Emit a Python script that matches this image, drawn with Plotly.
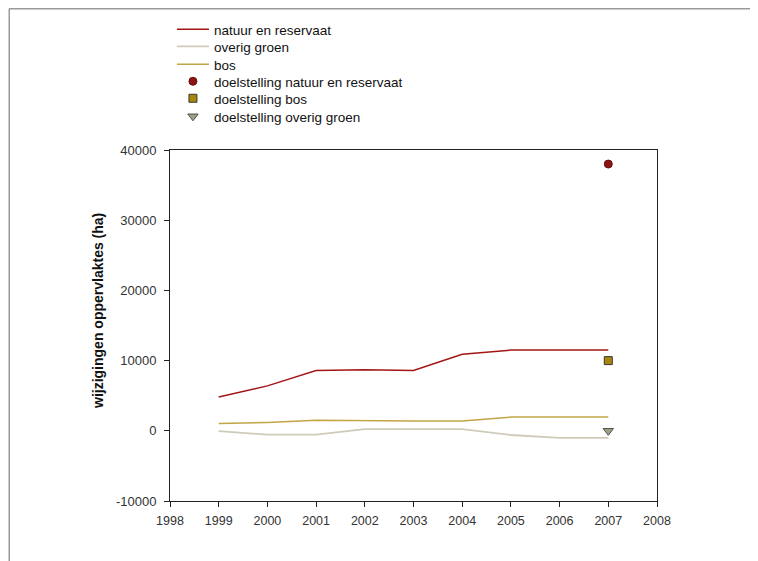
import plotly.graph_objects as go

years = [1999, 2000, 2001, 2002, 2003, 2004, 2005, 2006, 2007]
natuur = [4800, 6400, 8600, 8700, 8600, 10900, 11500, 11500, 11500]
overig = [-50, -550, -550, 250, 250, 250, -600, -1000, -1000]
bos = [1050, 1200, 1500, 1400, 1400, 1400, 1950, 1950, 1950]
target_year = [2007]
doel_natuur = [38000]
doel_bos = [10000]
doel_overig = [0]

y_ticks = [-10000, 0, 10000, 20000, 30000, 40000]
y_ticktext = ["-10000", "0", "10000", "20000", "30000", "40000"]
x_ticks = [1998, 1999, 2000, 2001, 2002, 2003, 2004, 2005, 2006, 2007, 2008]

W, H = 758, 561
L, T, PW, PH = 162, 142, 487, 351


def py(yf):
    return 1 + (T - yf) / PH


def px(xf):
    return (xf - L) / PW


fig = go.Figure()
fig.add_trace(go.Scatter(x=years, y=natuur, mode="lines", name="natuur en reservaat",
                         line=dict(color="#a31515", width=1.5), legend="legend"))
fig.add_trace(go.Scatter(x=years, y=overig, mode="lines", name="overig groen",
                         line=dict(color="#cfcbbb", width=1.8), legend="legend2"))
fig.add_trace(go.Scatter(x=years, y=bos, mode="lines", name="bos",
                         line=dict(color="#c4a544", width=1.5), legend="legend3"))
fig.add_trace(go.Scatter(x=target_year, y=doel_natuur, mode="markers", name="doelstelling natuur en reservaat",
                         marker=dict(symbol="circle", size=8, color="#8b1414", line=dict(color="#6a0e0e", width=1)),
                         legend="legend4"))
fig.add_trace(go.Scatter(x=target_year, y=doel_bos, mode="markers", name="doelstelling bos",
                         marker=dict(symbol="square", size=8, color="#a8860e", line=dict(color="#3a3a2a", width=1)),
                         legend="legend5"))
fig.add_trace(go.Scatter(x=target_year, y=doel_overig, mode="markers", name="doelstelling overig groen",
                         marker=dict(symbol="triangle-down", size=9, color="#a09f8a", line=dict(color="#505048", width=1)),
                         legend="legend6"))

legend_tops = [6, 23, 41, 58, 75, 93]
leg_common = dict(xanchor="left", yanchor="top", font=dict(size=13.5, color="#111111"),
                  bgcolor="rgba(0,0,0,0)", itemwidth=32, borderwidth=0)
legends = {}
for i, top in enumerate(legend_tops):
    key = "legend" if i == 0 else f"legend{i + 1}"
    legends[key] = dict(x=0.004, y=py(top), **leg_common)

fig.update_layout(
    width=W, height=H,
    margin=dict(l=L, r=W - L - PW, t=T, b=H - T - PH, autoexpand=False),
    paper_bgcolor="white", plot_bgcolor="white",
    font=dict(family="Liberation Sans, Arial, sans-serif", size=13, color="#222222"),
    showlegend=True,
    xaxis=dict(range=[1998, 2008], tickmode="array", tickvals=x_ticks,
               showgrid=False, zeroline=False, showline=True, mirror=True,
               linecolor="#222222", linewidth=1, ticks="outside", ticklen=5,
               tickcolor="#222222", tickfont=dict(size=12.5, color="#333333"),
               ticklabelstandoff=3, automargin=False),
    yaxis=dict(range=[-10000, 40000], tickmode="array", tickvals=y_ticks, ticktext=y_ticktext,
               showgrid=False, zeroline=False, showline=True, mirror=True,
               linecolor="#222222", linewidth=1, ticks="outside", ticklen=5,
               tickcolor="#222222", tickfont=dict(size=13, color="#333333"),
               ticklabelstandoff=5, automargin=False),
    annotations=[dict(text="<b>wijzigingen oppervlaktes (ha)</b>", xref="paper", yref="paper",
                      x=px(90), y=py(303), xanchor="center", yanchor="middle", textangle=-90,
                      showarrow=False, font=dict(size=14, color="#111111"))],
    shapes=[
        dict(type="line", xref="paper", yref="paper", x0=px(1), x1=px(W),
             y0=py(0.75), y1=py(0.75), line=dict(color="#9a9a9a", width=1.5)),
        dict(type="line", xref="paper", yref="paper", x0=px(1.25), x1=px(1.25),
             y0=py(0.75), y1=py(H), line=dict(color="#9a9a9a", width=1.5)),
    ],
    **legends,
)

fig.write_html("out.html")
